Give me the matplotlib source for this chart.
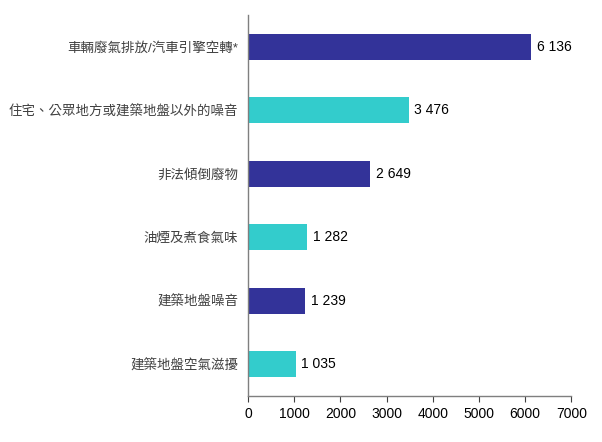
import matplotlib
matplotlib.use('Agg')
import matplotlib.pyplot as plt

plt.rcParams['font.family'] = ['Liberation Sans', 'Noto Sans CJK TC', 'DejaVu Sans']

categories = ['車輛廢氣排放/汽車引擎空轉*', '住宅、公眾地方或建築地盤以外的噪音', '非法傾倒廢物',
              '油煙及煮食氣味', '建築地盤噪音', '建築地盤空氣滋擾']
values = [6136, 3476, 2649, 1282, 1239, 1035]
colors = ['#333399', '#33CCCC', '#333399', '#33CCCC', '#333399', '#33CCCC']

fig = plt.figure(figsize=(6.02, 4.42), dpi=100)
ax = fig.add_axes([0.412, 0.104, 0.537, 0.862])

y = list(range(len(categories)))[::-1]
ax.barh(y, values, height=0.41, color=colors)
for yi, v in zip(y, values):
    ax.text(v + 120, yi, f'{v:,}'.replace(',', ' '), va='center', ha='left',
            fontsize=10, color='black')

ax.set_xlim(0, 7000)
ax.set_ylim(-0.5, 5.5)
ax.set_xticks(range(0, 7001, 1000))
ax.set_yticks(y)
ax.set_yticklabels(categories, fontsize=9.7, color='#404040')
ax.tick_params(axis='y', length=0, pad=7)
ax.tick_params(axis='x', labelsize=10, colors='#404040', length=4, width=0.8, pad=4)
ax.tick_params(axis='x', labelcolor='black')
for s in ['top', 'right']:
    ax.spines[s].set_visible(False)
for s in ['left', 'bottom']:
    ax.spines[s].set_color('#7f7f7f')
    ax.spines[s].set_linewidth(1)

fig.savefig('out.png', dpi=100)
